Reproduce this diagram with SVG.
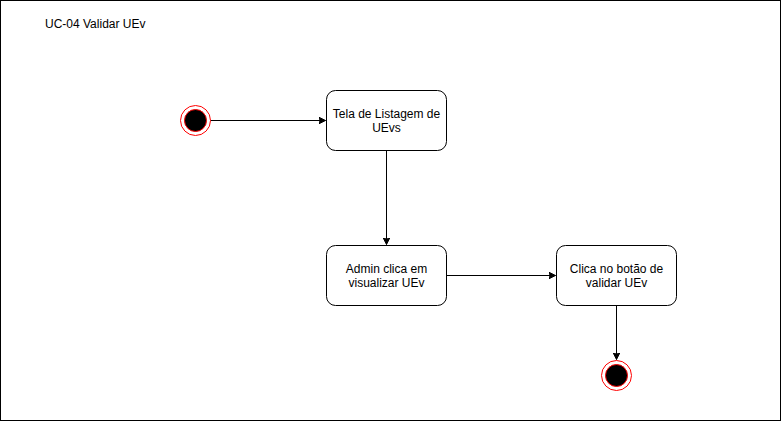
<svg xmlns="http://www.w3.org/2000/svg" width="781" height="421" viewBox="0 0 781 421">
<style>
.node{fill:#fff;stroke:#000;stroke-width:1}
.lbl{font-family:"Liberation Sans",Arial,sans-serif;font-size:12px;fill:#000;text-anchor:middle}
.edge{fill:none;stroke:#000;stroke-width:1}
.outer{fill:none;stroke:#ff0000;stroke-width:1}
.inner{fill:#000;stroke:#ff0000;stroke-width:1}
</style>
<defs>
<marker id="arr" markerWidth="10" markerHeight="10" refX="7" refY="3.5" orient="auto" markerUnits="userSpaceOnUse">
<path d="M0,0 L7,3.5 L0,7 L1.75,3.5 Z" fill="#000" stroke="#000" stroke-width="1"/>
</marker>
</defs>
<rect x="0.5" y="0.5" width="780" height="420" fill="#fff" stroke="#000" stroke-width="1"/>
<text x="45" y="28" font-family="Liberation Sans,Arial,sans-serif" font-size="12" fill="#000">UC-04 Validar UEv</text>
<g id="connectors">
<path class="edge" d="M210.5,120.5 L325.5,120.5" marker-end="url(#arr)"/>
<path class="edge" d="M386.5,150.5 L386.5,244.5" marker-end="url(#arr)"/>
<path class="edge" d="M446.5,275.5 L555.5,275.5" marker-end="url(#arr)"/>
<path class="edge" d="M616.5,305.5 L616.5,359.5" marker-end="url(#arr)"/>
</g>
<g id="start">
<circle class="outer" cx="195.5" cy="120.5" r="15"/>
<circle class="inner" cx="195.5" cy="120.5" r="11"/>
</g>
<g id="tela">
<rect class="node" x="326.5" y="90.5" width="120" height="60" rx="9" ry="9"/>
<text class="lbl" x="386.5" y="117.5">Tela de Listagem de</text>
<text class="lbl" x="386.5" y="131.5">UEvs</text>
</g>
<g id="admin">
<rect class="node" x="326.5" y="245.5" width="120" height="60" rx="9" ry="9"/>
<text class="lbl" x="386.5" y="272.5">Admin clica em</text>
<text class="lbl" x="386.5" y="286.5">visualizar UEv</text>
</g>
<g id="clica">
<rect class="node" x="556.5" y="245.5" width="120" height="60" rx="9" ry="9"/>
<text class="lbl" x="616.5" y="272.5">Clica no botão de</text>
<text class="lbl" x="616.5" y="286.5">validar UEv</text>
</g>
<g id="end">
<circle class="outer" cx="616.5" cy="375.5" r="15"/>
<circle class="inner" cx="616.5" cy="375.5" r="11"/>
</g>
</svg>
